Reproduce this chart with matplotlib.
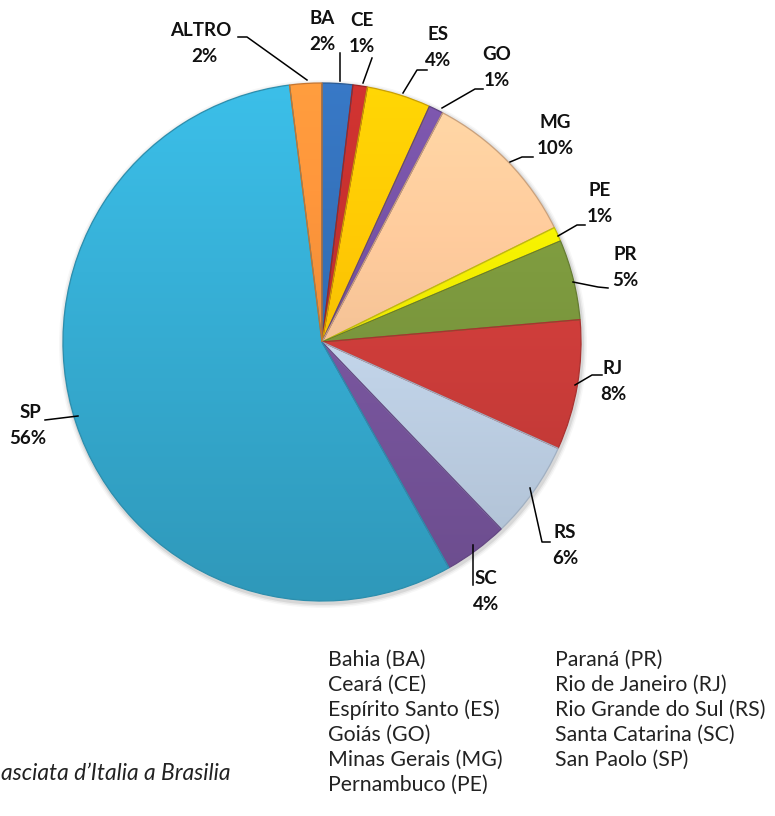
import numpy as np
import matplotlib
matplotlib.use("Agg")
import matplotlib.pyplot as plt
from matplotlib.colors import to_rgb

# ---- data ----
codes = ["BA", "CE", "ES", "GO", "MG", "PE", "PR", "RJ", "RS", "SC", "SP", "ALTRO"]
shares = [1.9, 0.9, 4.0, 0.9, 10.0, 0.9, 5.0, 8.1, 6.1, 4.0, 56.1, 2.0]
colors = ["#3470b8", "#c3302e", "#fdc704", "#7652a4", "#fcc99b", "#f4f000",
          "#7e9b3f", "#d43f3c", "#c9dcf2", "#7d59a4", "#37b1d8", "#f7923a"]
legend_col1 = ["Bahia (BA)", "Ceará (CE)", "Espírito Santo (ES)", "Goiás (GO)",
               "Minas Gerais (MG)", "Pernambuco (PE)"]
legend_col2 = ["Paraná (PR)", "Rio de Janeiro (RJ)", "Rio Grande do Sul (RS)",
               "Santa Catarina (SC)", "San Paolo (SP)"]
source = "asciata d\u2019Italia a Brasilia"

# ---- layout (pixel coordinates, y from top) ----
W, H = 775, 816
CX, CY, R = 322, 342, 259
label_pos = {  # name line (x, y) ; percent line drawn 26px below
    "ALTRO": (201, 30), "BA": (322, 18), "CE": (362, 21), "ES": (438, 34),
    "GO": (497, 55), "MG": (555, 122), "PE": (600, 190), "PR": (625, 255),
    "RJ": (613, 369), "RS": (565, 533), "SC": (486, 578), "SP": (30, 412),
}
pct_dx = {"ALTRO": 3, "SP": -2}
leaders = {
    "ALTRO": [(238, 37), (247, 37), (307, 80)],
    "BA": [(340, 53), (340, 81)],
    "CE": [(372, 58), (363, 83)],
    "ES": [(427, 70), (417, 70), (403, 93)],
    "GO": [(483, 89), (475, 89), (442, 108)],
    "MG": [(533, 157), (522, 157), (510, 162)],
    "PE": [(585, 225), (577, 225), (558, 236)],
    "PR": [(608, 288), (598, 287), (573, 282)],
    "RJ": [(602, 375), (592, 375), (575, 385)],
    "RS": [(550, 542), (542, 542), (530, 488)],
    "SC": [(473, 585), (473, 545)],
    "SP": [(45, 420), (78, 416)],
}

def P(x, y):
    return x, H - y

plt.rcParams['font.family'] = ['Lato', 'DejaVu Sans']
fig = plt.figure(figsize=(W / 100, H / 100), dpi=100)
ax = fig.add_axes([0, 0, 1, 1])

cx, cy = P(CX, CY)

# soft shadow
for k, a in [(5, 0.03), (3.5, 0.05), (2, 0.08)]:
    ax.add_patch(plt.Circle((cx + 1, cy - 2), R + k, color="#000000", alpha=a, lw=0, zorder=0))

wedges, _ = ax.pie(shares, colors=colors, startangle=90, counterclock=False,
                   radius=R, center=(cx, cy), frame=True,
                   wedgeprops=dict(linewidth=0))
ax.set_xlim(0, W)
ax.set_ylim(0, H)
ax.set_aspect("auto")
ax.axis("off")

# vertical gradient shading clipped to each wedge
yy = np.linspace(0, 1, 256)
shade = 0.86 + 0.22 * yy  # darker at bottom, lighter at top
for w, c in zip(wedges, colors):
    base = np.array(to_rgb(c))
    img = np.clip(shade[:, None, None] * base[None, None, :], 0, 1)
    img = np.repeat(img, 2, axis=1)
    im = ax.imshow(img, extent=(cx - R, cx + R, cy - R, cy + R), origin="lower",
                   aspect="auto", zorder=2, interpolation="bilinear")
    im.set_clip_path(w)
    w.set_facecolor("none")
    w.set_edgecolor(tuple(base * 0.8))
    w.set_linewidth(0.9)
    w.set_zorder(3)

total = sum(shares)
for code, v in zip(codes, shares):
    x, y = label_pos[code]
    ax.text(*P(x, y), code, ha="center", va="center", fontsize=13.5,
            fontweight="bold", color="#111111", zorder=5)
    ax.text(*P(x + pct_dx.get(code, 0), y + 26), f"{round(v / total * 100):.0f}%",
            ha="center", va="center", fontsize=13.5, fontweight="bold",
            color="#111111", zorder=5)
    pts = [P(a, b) for a, b in leaders[code]]
    ax.plot([p[0] for p in pts], [p[1] for p in pts], color="black", lw=1.1, zorder=4)

# legend text (two columns, no markers)
for i, t in enumerate(legend_col1):
    ax.text(*P(328, 660 + i * 25), t, ha="left", va="center", fontsize=15.3, color="#222222")
for i, t in enumerate(legend_col2):
    ax.text(*P(555, 660 + i * 25), t, ha="left", va="center", fontsize=15.3, color="#222222")

# source (only its visible end is shown in the reference)
ax.text(*P(1, 773), source, ha="left", va="center", fontsize=16.4,
        style="italic", color="#222222")

fig.savefig("out.png", dpi=100)
